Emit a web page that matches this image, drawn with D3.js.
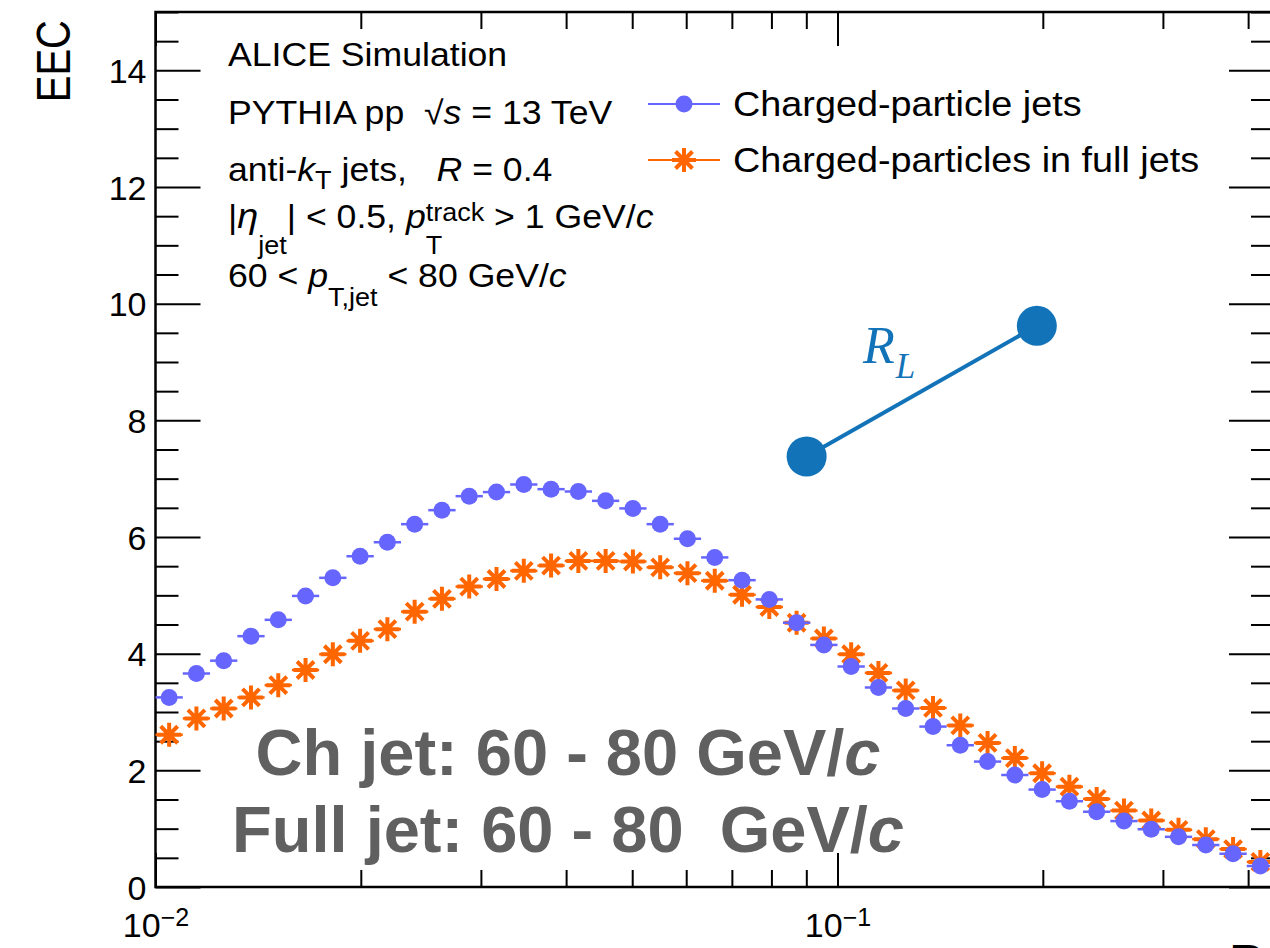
<!DOCTYPE html>
<html>
<head>
<meta charset="utf-8">
<script src="https://cdn.jsdelivr.net/npm/d3@7"></script>
<style>
  body { margin: 0; background: #fff; }
  svg { display: block; font-family: "Liberation Sans", Arial, Helvetica, sans-serif; }
  .axis text { font-size: 34px; fill: #000; }
  .axis line { stroke: #000; stroke-width: 2; }
</style>
</head>
<body>
<div id="chart"></div>
<script>
// histogram binning: 25 log bins per decade starting at 1e-2
const nBins = 41;
const binEdges = d3.range(nBins + 1).map(k => Math.pow(10, -2 + 0.04 * k));

// EEC values, one per bin
const chJets = [3.25, 3.66, 3.88, 4.30, 4.58, 4.99, 5.30, 5.67, 5.91, 6.22,
  6.46, 6.70, 6.77, 6.90, 6.82, 6.78, 6.62, 6.49, 6.22, 5.97,
  5.65, 5.26, 4.93, 4.53, 4.15, 3.78, 3.42, 3.06, 2.75, 2.43,
  2.15, 1.92, 1.67, 1.47, 1.29, 1.13, 0.99, 0.86, 0.72, 0.57, 0.36];
const fullJets = [2.61, 2.89, 3.06, 3.25, 3.46, 3.72, 3.99, 4.22, 4.42, 4.72,
  4.94, 5.15, 5.28, 5.42, 5.51, 5.59, 5.59, 5.58, 5.48, 5.38,
  5.25, 5.01, 4.80, 4.53, 4.26, 3.99, 3.67, 3.37, 3.07, 2.77,
  2.47, 2.21, 1.95, 1.72, 1.51, 1.31, 1.14, 0.98, 0.82, 0.65, 0.43];

const seriesNames = ['Charged-particle jets', 'Charged-particles in full jets'];

// ticks
const yMajor = [0, 2, 4, 6, 8, 10, 12, 14];
const yMinor = d3.range(0, 15.01, 0.5).filter(v => v % 2 !== 0);
const xMajor = [0.01, 0.1];
const xMinor = [0.02, 0.03, 0.04, 0.05, 0.06, 0.07, 0.08, 0.09, 0.2, 0.3, 0.4];

// R_L sketch, in data coordinates
const rlEnds = [[0.0901, 7.38], [0.196, 9.62]];
const rlLabelAt = [0.109, 8.98];

const BLUE = '#6666ff';
const ORANGE = '#ff6600';
const SKETCH = '#1273b8';
const SX = 1.08; // text in the ROOT canvas is a bit wider than the font

const W = 1270, H = 948;
const FRAME = { left: 155.5, right: 1274, top: 12, bottom: 887 };

const svg = d3.select('#chart').append('svg').attr('width', W).attr('height', H);

const x = d3.scaleLog().domain([binEdges[0], binEdges[nBins]]).range([FRAME.left, FRAME.right]);
const y = d3.scaleLinear().domain([0, 15]).range([FRAME.bottom, FRAME.top]);

const bins = d3.range(nBins).map(i => ({
  lo: binEdges[i], hi: binEdges[i + 1],
  c: Math.sqrt(binEdges[i] * binEdges[i + 1]),
  ch: chJets[i], full: fullJets[i]
}));

function noDomain(g) { g.select('.domain').remove(); }

// ---- axes (ticks point inward, ROOT style)
svg.append('g').attr('class', 'axis')
  .attr('transform', `translate(${FRAME.left},0)`)
  .call(d3.axisLeft(y).tickValues(yMajor).tickSize(-45).tickPadding(9).tickFormat(d3.format('d')))
  .call(noDomain)
  .call(g => g.selectAll('.tick text').attr('dy', '0.36em'));
svg.append('g').attr('class', 'axis')
  .attr('transform', `translate(${FRAME.left},0)`)
  .call(d3.axisLeft(y).tickValues(yMinor).tickSize(-23).tickFormat(() => ''))
  .call(noDomain);
svg.append('g').attr('class', 'axis')
  .attr('transform', `translate(${FRAME.right},0)`)
  .call(d3.axisRight(y).tickValues(yMajor).tickSize(-45).tickFormat(() => ''))
  .call(noDomain);
svg.append('g').attr('class', 'axis')
  .attr('transform', `translate(${FRAME.right},0)`)
  .call(d3.axisRight(y).tickValues(yMinor).tickSize(-23).tickFormat(() => ''))
  .call(noDomain);

const gx = svg.append('g').attr('class', 'axis')
  .attr('transform', `translate(0,${FRAME.bottom})`)
  .call(d3.axisBottom(x).tickValues(xMajor).tickSize(-34))
  .call(noDomain);
gx.selectAll('.tick text')
  .text(null)
  .attr('y', 50).attr('dy', null)
  .call(t => {
    t.append('tspan').text('10');
    t.append('tspan').attr('dy', -11).style('font-size', '25px')
      .text(d => '\u2212' + Math.round(-Math.log10(d)));
  });
svg.append('g').attr('class', 'axis')
  .attr('transform', `translate(0,${FRAME.bottom})`)
  .call(d3.axisBottom(x).tickValues(xMinor).tickSize(-17).tickFormat(() => ''))
  .call(noDomain);
svg.append('g').attr('class', 'axis')
  .attr('transform', `translate(0,${FRAME.top})`)
  .call(d3.axisTop(x).tickValues(xMajor).tickSize(-34).tickFormat(() => ''))
  .call(noDomain);
svg.append('g').attr('class', 'axis')
  .attr('transform', `translate(0,${FRAME.top})`)
  .call(d3.axisTop(x).tickValues(xMinor).tickSize(-17).tickFormat(() => ''))
  .call(noDomain);

svg.append('rect')
  .attr('x', FRAME.left).attr('y', FRAME.top)
  .attr('width', FRAME.right - FRAME.left).attr('height', FRAME.bottom - FRAME.top)
  .attr('fill', 'none').attr('stroke', '#000').attr('stroke-width', 2.5);

// axis titles
svg.append('text')
  .attr('transform', `translate(70,20) scale(1.2,1) rotate(-90)`)
  .attr('text-anchor', 'end')
  .style('font-size', '40px')
  .text('EEC');
svg.append('text')
  .attr('transform', `translate(1229,973) scale(1.2,1)`)
  .style('font-size', '40px')
  .text('R');

// ---- big grey range labels
const grey = svg.append('g').attr('fill', '#606060')
  .style('font-weight', 'bold').style('font-size', '65px')
  .attr('text-anchor', 'middle').attr('xml:space', 'preserve');
[['Ch jet: 60 - 80 GeV/', 775], ['Full jet: 60 - 80  GeV/', 852]].forEach(([s, yy]) => {
  const t = grey.append('text').attr('x', 568).attr('y', yy).style('white-space', 'pre');
  t.append('tspan').text(s);
  t.append('tspan').style('font-style', 'italic').text('c');
});

// ---- R_L sketch
svg.append('line')
  .attr('x1', x(rlEnds[0][0])).attr('y1', y(rlEnds[0][1]))
  .attr('x2', x(rlEnds[1][0])).attr('y2', y(rlEnds[1][1]))
  .attr('stroke', SKETCH).attr('stroke-width', 4);
svg.selectAll('.rl-end').data(rlEnds).join('circle')
  .attr('class', 'rl-end')
  .attr('cx', d => x(d[0])).attr('cy', d => y(d[1])).attr('r', 20)
  .attr('fill', SKETCH);
const rl = svg.append('text')
  .attr('x', x(rlLabelAt[0])).attr('y', y(rlLabelAt[1]))
  .attr('fill', SKETCH)
  .style('font-family', '"Liberation Serif", "DejaVu Serif", serif')
  .style('font-style', 'italic');
rl.append('tspan').style('font-size', '52px').text('R');
rl.append('tspan').attr('dy', 15).attr('dx', 1).style('font-size', '35px').text('L');

// ---- data: horizontal bin-width bars + markers
const starType = {
  draw(ctx, size) {
    const r = Math.sqrt(size) / 2, d = r * Math.SQRT1_2;
    ctx.moveTo(0, -r); ctx.lineTo(0, r);
    ctx.moveTo(-r, 0); ctx.lineTo(r, 0);
    ctx.moveTo(-d, -d); ctx.lineTo(d, d);
    ctx.moveTo(-d, d); ctx.lineTo(d, -d);
  }
};
const starPath = d3.symbol().type(starType).size(24 * 24)();

const gFull = svg.append('g');
gFull.selectAll('line').data(bins).join('line')
  .attr('x1', d => x(d.lo)).attr('x2', d => x(d.hi))
  .attr('y1', d => y(d.full)).attr('y2', d => y(d.full))
  .attr('stroke', ORANGE).attr('stroke-width', 2.5);
gFull.selectAll('path').data(bins).join('path')
  .attr('d', starPath)
  .attr('transform', d => `translate(${x(d.c)},${y(d.full)})`)
  .attr('fill', 'none').attr('stroke', ORANGE).attr('stroke-width', 4);

const gCh = svg.append('g');
gCh.selectAll('line').data(bins).join('line')
  .attr('x1', d => x(d.lo)).attr('x2', d => x(d.hi))
  .attr('y1', d => y(d.ch)).attr('y2', d => y(d.ch))
  .attr('stroke', BLUE).attr('stroke-width', 2.5);
gCh.selectAll('circle').data(bins).join('circle')
  .attr('cx', d => x(d.c)).attr('cy', d => y(d.ch)).attr('r', 8.5)
  .attr('fill', BLUE);

// ---- legend
const leg = svg.append('g');
[[BLUE, 104], [ORANGE, 160]].forEach(([col, ly], i) => {
  leg.append('line').attr('x1', 648).attr('x2', 720).attr('y1', ly).attr('y2', ly)
    .attr('stroke', col).attr('stroke-width', 2);
  if (i === 0) {
    leg.append('circle').attr('cx', 684).attr('cy', ly).attr('r', 8.5).attr('fill', col);
  } else {
    leg.append('path').attr('d', starPath).attr('transform', `translate(684,${ly})`)
      .attr('fill', 'none').attr('stroke', col).attr('stroke-width', 4);
  }
  leg.append('text')
    .attr('transform', `translate(733,${ly + 12}) scale(${SX},1)`)
    .style('font-size', '35px')
    .text(seriesNames[i]);
});

// ---- info block (TLatex-like pieces)
function richText(x0, y0, parts) {
  const g = svg.append('g').attr('transform', `translate(${x0},${y0}) scale(${SX},1)`);
  let cx = 0, stackW = 0;
  parts.forEach(p => {
    const t = g.append('text')
      .attr('x', cx).attr('y', p.dy || 0)
      .attr('xml:space', 'preserve')
      .style('white-space', 'pre')
      .style('font-size', (p.size || 33) + 'px')
      .style('font-style', p.it ? 'italic' : 'normal')
      .text(p.t);
    const w = t.node().getComputedTextLength();
    if (p.stack) { stackW = w; } else { cx += Math.max(w, stackW); stackW = 0; }
  });
}
const SUB = 25;
richText(228, 66, [{ t: 'ALICE Simulation' }]);
richText(228, 124, [{ t: 'PYTHIA pp  ' }, { t: '\u221A' }, { t: 's', it: true }, { t: ' = 13 TeV' }]);
richText(228, 181, [{ t: 'anti-' }, { t: 'k', it: true }, { t: 'T', size: SUB, dy: 8 },
  { t: ' jets,   ' }, { t: 'R', it: true }, { t: ' = 0.4' }]);
richText(228, 228, [{ t: '|' }, { t: '\u03B7', it: true, size: 35 }, { t: 'jet', size: SUB, dy: 26 },
  { t: '| < 0.5, ' }, { t: 'p', it: true }, { t: 'track', size: SUB, dy: -7, stack: true },
  { t: 'T', size: SUB, dy: 26 }, { t: ' > 1 GeV/' }, { t: 'c', it: true }]);
richText(228, 287, [{ t: '60 < ' }, { t: 'p', it: true }, { t: 'T,jet', size: SUB, dy: 19 },
  { t: ' < 80 GeV/' }, { t: 'c', it: true }]);
</script>
</body>
</html>
